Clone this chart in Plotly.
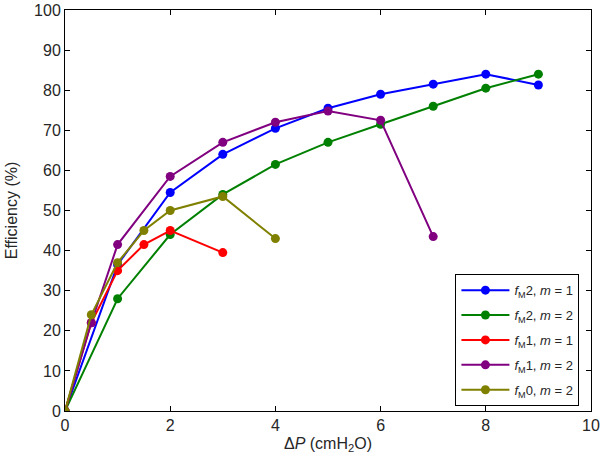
import plotly.graph_objects as go

x_fm2_m1 = [0, 1, 2, 3, 4, 5, 6, 7, 8, 9]
y_fm2_m1 = [0, 36.5, 54.5, 64, 70.5, 75.5, 79, 81.5, 84, 81.3]

x_fm2_m2 = [0, 1, 2, 3, 4, 5, 6, 7, 8, 9]
y_fm2_m2 = [0, 28, 44, 54, 61.5, 67, 71.5, 76, 80.5, 84]

x_fm1_m1 = [0, 0.5, 1, 1.5, 2, 3]
y_fm1_m1 = [0, 22, 35, 41.5, 45, 39.5]

x_fm1_m2 = [0, 0.5, 1, 2, 3, 4, 5, 6, 7]
y_fm1_m2 = [0, 22, 41.5, 58.5, 67, 72, 74.8, 72.5, 43.5]

x_fm0_m2 = [0, 0.5, 1, 1.5, 2, 3, 4]
y_fm0_m2 = [0, 24, 37, 45, 50, 53.5, 43]

series = [
    (x_fm2_m1, y_fm2_m1, "#0000FF", "<i>f</i><sub>M</sub>2, <i>m</i> = 1"),
    (x_fm2_m2, y_fm2_m2, "#008000", "<i>f</i><sub>M</sub>2, <i>m</i> = 2"),
    (x_fm1_m1, y_fm1_m1, "#FF0000", "<i>f</i><sub>M</sub>1, <i>m</i> = 1"),
    (x_fm1_m2, y_fm1_m2, "#800080", "<i>f</i><sub>M</sub>1, <i>m</i> = 2"),
    (x_fm0_m2, y_fm0_m2, "#808000", "<i>f</i><sub>M</sub>0, <i>m</i> = 2"),
]

FAM = "Liberation Sans, Arial, sans-serif"
TXT = "#262626"

fig = go.Figure()
for i, (xs, ys, col, name) in enumerate(series):
    fig.add_trace(go.Scatter(
        x=xs, y=ys, mode="lines+markers", name=name, legendgroup=f"g{i}",
        line=dict(color=col, width=2),
        marker=dict(color=col, size=9, symbol="circle"),
    ))

axis_common = dict(
    showgrid=False, zeroline=False, showline=True, linecolor="black", linewidth=1,
    mirror="ticks", ticks="inside", ticklen=5, tickcolor="black", automargin=False,
    ticklabeloverflow="allow",
    tickfont=dict(family=FAM, size=16, color=TXT),
)
fig.update_xaxes(range=[0, 10], dtick=2, tick0=0,
                 title=dict(text="Δ<i>P</i> (cmH<sub>2</sub>O)", standoff=4,
                            font=dict(family=FAM, size=16, color=TXT)),
                 **axis_common)
fig.update_yaxes(range=[0, 100], dtick=10, tick0=0,
                 title=dict(text="Efficiency (%)", standoff=12,
                            font=dict(family=FAM, size=16, color=TXT)),
                 **axis_common)

fig.update_layout(
    width=600, height=469,
    margin=dict(l=65, r=9, t=10, b=58),
    paper_bgcolor="white", plot_bgcolor="white",
    font=dict(family=FAM, size=16, color=TXT),
    showlegend=True,
    legend=dict(
        x=0.978, y=0.012, xanchor="right", yanchor="bottom",
        bgcolor="white", bordercolor="black", borderwidth=1,
        font=dict(family=FAM, size=13, color=TXT),
        tracegroupgap=5, itemwidth=48,
    ),
)

# remove the browser's default 8px body margin so the figure sits at the page origin
fig.write_html("out.html", config={"displayModeBar": False},
               post_script="document.body.style.margin='0px';")
